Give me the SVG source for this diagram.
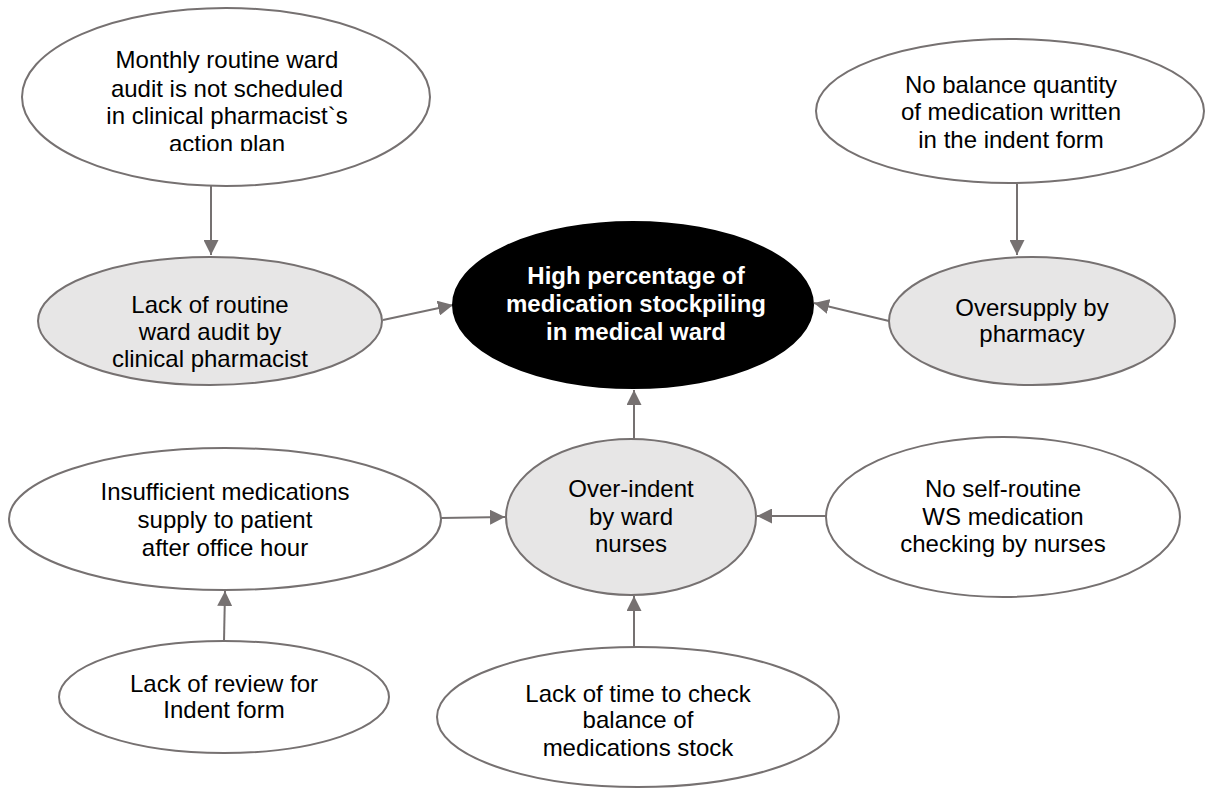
<svg xmlns="http://www.w3.org/2000/svg" width="1206" height="789" viewBox="0 0 1206 789">
<defs>
<style>
.n{fill:#ffffff;stroke:#767171;stroke-width:2}
.g{fill:#e7e6e6;stroke:#767171;stroke-width:2}
.c{fill:#000000;stroke:#000000;stroke-width:2}
text{font-family:"Liberation Sans",Arial,sans-serif;font-size:24px;fill:#000;text-anchor:middle}
.w{fill:#ffffff;font-weight:bold}
.e{stroke:#767171;stroke-width:2;fill:none;marker-end:url(#ah)}
</style>
<marker id="ah" viewBox="0 0 10 10" refX="10" refY="5" markerWidth="7.5" markerHeight="7.5" markerUnits="strokeWidth" orient="auto">
<path d="M0,0 L10,5 L0,10 z" fill="#767171"/>
</marker>
<clipPath id="clipM"><rect x="0" y="0" width="460" height="151"/></clipPath>
</defs>
<g id="connectors">
<line class="e" x1="211" y1="186" x2="211" y2="255"/>
<line class="e" x1="1017" y1="184" x2="1017" y2="255"/>
<line class="e" x1="383" y1="320" x2="453" y2="305"/>
<line class="e" x1="889" y1="321" x2="814" y2="303"/>
<line class="e" x1="634" y1="439" x2="634" y2="390"/>
<line class="e" x1="441" y1="518" x2="505" y2="517"/>
<line class="e" x1="826" y1="516" x2="757" y2="516"/>
<line class="e" x1="224" y1="641" x2="225" y2="591"/>
<line class="e" x1="634" y1="647" x2="634" y2="596"/>
</g>
<g id="node-monthly">
<ellipse class="n" cx="226" cy="97" rx="204" ry="89"/>
<g clip-path="url(#clipM)">
<text x="227" y="68">Monthly routine ward</text>
<text x="227" y="97">audit is not scheduled</text>
<text x="227" y="124">in clinical pharmacist`s</text>
<text x="227" y="152">action plan</text>
</g>
</g>
<g id="node-nobalance">
<ellipse class="n" cx="1010" cy="111" rx="194" ry="72"/>
<text x="1011" y="93">No balance quantity</text>
<text x="1011" y="120">of medication written</text>
<text x="1011" y="148">in the indent form</text>
</g>
<g id="node-lackroutine">
<ellipse class="g" cx="210" cy="321" rx="172" ry="64"/>
<text x="210" y="313">Lack of routine</text>
<text x="210" y="340">ward audit by</text>
<text x="210" y="367">clinical pharmacist</text>
</g>
<g id="node-central">
<ellipse class="c" cx="633" cy="305" rx="180" ry="83"/>
<text class="w" x="636" y="284">High percentage of</text>
<text class="w" x="636" y="312">medication stockpiling</text>
<text class="w" x="636" y="340">in medical ward</text>
</g>
<g id="node-oversupply">
<ellipse class="g" cx="1032" cy="321" rx="143" ry="64"/>
<text x="1032" y="316">Oversupply by</text>
<text x="1032" y="342">pharmacy</text>
</g>
<g id="node-insufficient">
<ellipse class="n" cx="225" cy="519" rx="216" ry="71"/>
<text x="225" y="500">Insufficient medications</text>
<text x="225" y="528">supply to patient</text>
<text x="225" y="556">after office hour</text>
</g>
<g id="node-overindent">
<ellipse class="g" cx="631" cy="517" rx="125" ry="78"/>
<text x="631" y="497">Over-indent</text>
<text x="631" y="525">by ward</text>
<text x="631" y="552">nurses</text>
</g>
<g id="node-noself">
<ellipse class="n" cx="1003" cy="517" rx="177" ry="80"/>
<text x="1003" y="497">No self-routine</text>
<text x="1003" y="525">WS medication</text>
<text x="1003" y="552">checking by nurses</text>
</g>
<g id="node-lackreview">
<ellipse class="n" cx="224" cy="697" rx="165" ry="56"/>
<text x="224" y="692">Lack of review for</text>
<text x="224" y="718">Indent form</text>
</g>
<g id="node-lacktime">
<ellipse class="n" cx="638" cy="717" rx="201" ry="70"/>
<text x="638" y="702">Lack of time to check</text>
<text x="638" y="728">balance of</text>
<text x="638" y="756">medications stock</text>
</g>
</svg>
